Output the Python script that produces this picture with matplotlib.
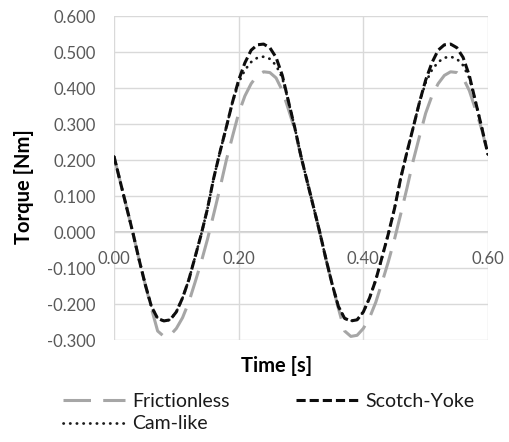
import numpy as np
import matplotlib
matplotlib.use("Agg")
import matplotlib.pyplot as plt

plt.rcParams['font.family'] = ['Lato', 'DejaVu Sans']

# time axis, 0.01 s steps from 0.00 to 0.60
time = np.arange(61) / 100.0

frictionless = [
    0.210, 0.140, 0.070, 0.000, -0.075, -0.145, -0.212, -0.275, -0.290, -0.287,
    -0.268, -0.238, -0.195, -0.140, -0.083, -0.020, 0.050, 0.122, 0.198, 0.265,
    0.330, 0.378, 0.412, 0.435, 0.445, 0.443, 0.428, 0.393, 0.340, 0.285,
    0.210, 0.140, 0.070, 0.000, -0.075, -0.145, -0.212, -0.275, -0.290, -0.287,
    -0.268, -0.238, -0.195, -0.140, -0.083, -0.020, 0.050, 0.122, 0.198, 0.265,
    0.330, 0.378, 0.412, 0.435, 0.445, 0.443, 0.428, 0.393, 0.340, 0.285,
    0.215,
]
scotch_yoke = [
    0.210, 0.140, 0.070, 0.000, -0.075, -0.145, -0.207, -0.240, -0.247, -0.244,
    -0.222, -0.183, -0.133, -0.070, -0.006, 0.065, 0.150, 0.222, 0.290, 0.360,
    0.422, 0.470, 0.505, 0.520, 0.522, 0.512, 0.485, 0.435, 0.362, 0.290,
    0.210, 0.140, 0.070, 0.000, -0.075, -0.145, -0.207, -0.240, -0.247, -0.244,
    -0.222, -0.183, -0.133, -0.070, -0.006, 0.065, 0.150, 0.222, 0.290, 0.360,
    0.422, 0.470, 0.505, 0.520, 0.522, 0.512, 0.485, 0.435, 0.362, 0.290,
    0.215,
]
cam_like = [
    0.210, 0.140, 0.070, 0.000, -0.075, -0.145, -0.207, -0.240, -0.247, -0.244,
    -0.222, -0.183, -0.133, -0.070, -0.006, 0.065, 0.150, 0.222, 0.290, 0.360,
    0.415, 0.450, 0.472, 0.484, 0.487, 0.481, 0.463, 0.428, 0.362, 0.290,
    0.210, 0.140, 0.070, 0.000, -0.075, -0.145, -0.207, -0.240, -0.247, -0.244,
    -0.222, -0.183, -0.133, -0.070, -0.006, 0.065, 0.150, 0.222, 0.290, 0.360,
    0.415, 0.450, 0.472, 0.484, 0.487, 0.481, 0.463, 0.428, 0.362, 0.290,
    0.215,
]

x_ticks = [0.0, 0.2, 0.4, 0.6]
x_labels = ["0.00", "0.20", "0.40", "0.60"]
y_ticks = [-0.3, -0.2, -0.1, 0.0, 0.1, 0.2, 0.3, 0.4, 0.5, 0.6]
y_labels = ["-0.300", "-0.200", "-0.100", "0.000", "0.100", "0.200",
            "0.300", "0.400", "0.500", "0.600"]

fig = plt.figure(figsize=(5.09, 4.42), dpi=100)
ax = fig.add_axes([114 / 509, 1 - 340 / 442, 374 / 509, 324 / 442])

ax.plot(time, frictionless, color='#a6a6a6', lw=2.2, dashes=(9, 4),
        label='Frictionless', zorder=3)
ax.plot(time, cam_like, color='#1a1a1a', lw=2.0, dashes=(0.1, 2.3),
        dash_capstyle='round', label='Cam-like', zorder=4)
ax.plot(time, scotch_yoke, color='#0d0d0d', lw=2.2, dashes=(3, 1.3),
        label='Scotch-Yoke', zorder=5)

ax.set_xlim(0, 0.6)
ax.set_ylim(-0.3, 0.6)
ax.set_xticks(x_ticks)
ax.set_xticklabels(x_labels)
ax.set_yticks(y_ticks)
ax.set_yticklabels(y_labels)

ax.grid(True, color='#d9d9d9', lw=1.0, zorder=0)
ax.axhline(0, color='#c6c6c6', lw=1.2, zorder=1)
for s in ax.spines.values():
    s.set_visible(False)
ax.spines['bottom'].set_position(('data', 0))

ax.tick_params(axis='both', length=0, labelsize=12, labelcolor='#595959')
ax.tick_params(axis='x', pad=13.5)
ax.tick_params(axis='y', pad=13)

ax.set_xlabel('Time [s]', fontsize=14.5, fontweight='bold', color='#000000')
ax.xaxis.set_label_coords((277 - 114) / 374, (340 - 366) / 324)
ax.xaxis.label.set_va('center')
ax.set_ylabel('Torque [Nm]', fontsize=14.5, fontweight='bold', color='#000000')
ax.yaxis.set_label_coords((24 - 114) / 374, (340 - 187) / 324)
ax.yaxis.label.set_va('center')

fig.legend(loc='upper left', bbox_to_anchor=(63 / 509, 1 - 393 / 442),
           ncol=2, frameon=False, fontsize=14, handlelength=3.2,
           handletextpad=0.36, columnspacing=3.4, labelspacing=0.28,
           borderpad=0, borderaxespad=0, labelcolor='#1a1a1a')

fig.savefig('out.png', dpi=100)
